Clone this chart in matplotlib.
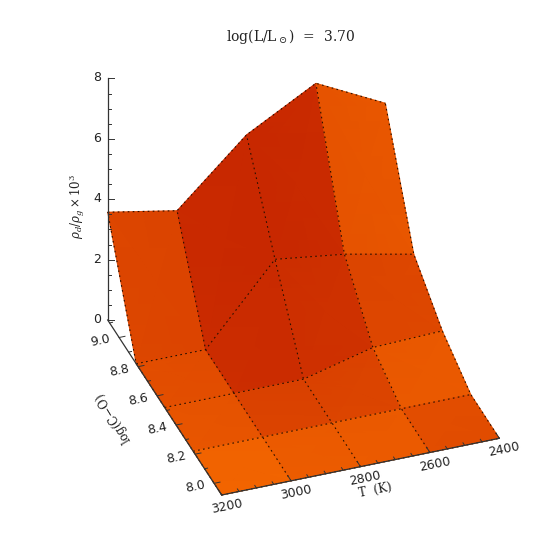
import numpy as np
import matplotlib
matplotlib.use('Agg')
import matplotlib.pyplot as plt
from matplotlib.colors import LinearSegmentedColormap

# grid of the surface
temps = [3200, 3000, 2800, 2600, 2400]
logco = [7.92, 8.22, 8.52, 8.82, 9.12]

# rho_d/rho_g x 10^3, one row per log(C-O), one column per T
rho = np.array([
    [0.00, 0.00, 0.00, 0.00, 0.00],
    [0.00, 0.00, 0.00, 0.00, 0.00],
    [0.00, 0.00, 0.00, 0.58, 0.66],
    [0.00, 0.00, 2.52, 2.22, 1.75],
    [3.57, 3.15, 5.19, 6.43, 5.30],
])

# brightness of each cell (0 = dark red, 1 = bright orange)
cell_shade = np.array([
    [1.00, 0.85, 0.85, 0.60],
    [0.74, 0.42, 0.45, 0.84],
    [0.64, 0.03, 0.12, 0.50],
    [0.50, 0.00, 0.00, 0.78],
])

t_major = [3200, 3000, 2800, 2600, 2400]
t_minor = [3150, 3100, 3050, 2950, 2900, 2850, 2750, 2700, 2650, 2550, 2500, 2450]
co_major = [8.0, 8.2, 8.4, 8.6, 8.8, 9.0]
co_minor = [8.1, 8.3, 8.5, 8.7, 8.9, 9.1]
z_major = [0, 2, 4, 6, 8]
z_minor = [0.5, 1, 1.5, 2.5, 3, 3.5, 4.5, 5, 5.5, 6.5, 7, 7.5]

orig = np.array([221.7, 495.0])
t_vec = np.array([277.6, -56.7])
co_vec = np.array([-114.0, -175.0])
z_vec = np.array([0.0, -30.2])


def proj(t, c, z=0.0):
    # data to picture position, the view is orthographic
    return orig + (3200 - t) / 800.0 * t_vec + (c - 7.92) / 1.2 * co_vec + z * z_vec


cmap = LinearSegmentedColormap.from_list('surf', ['#c82800', '#f26400'])

plt.rcParams['mathtext.fontset'] = 'dejavuserif'

fig = plt.figure(figsize=(5.5, 5.5), dpi=100)
ax = fig.add_axes([0, 0, 1, 1])
ax.set_xlim(0, 550)
ax.set_ylim(550, 0)
ax.axis('off')

xs = np.zeros((5, 5))
ys = np.zeros((5, 5))
for j in range(5):
    for i in range(5):
        xs[j, i], ys[j, i] = proj(temps[i], logco[j], rho[j, i])

# soft corners: mostly the cell's own colour, a bit of the neighbours
node = np.zeros((5, 5))
for j in range(5):
    for i in range(5):
        node[j, i] = cell_shade[max(j - 1, 0):j + 1, max(i - 1, 0):i + 1].mean()

# back to front
for j in range(3, -1, -1):
    for i in range(4):
        c = 0.85 * cell_shade[j, i] + 0.15 * node[j:j + 2, i:i + 2]
        ax.pcolormesh(xs[j:j + 2, i:i + 2], ys[j:j + 2, i:i + 2], c,
                      shading='gouraud', cmap=cmap, vmin=0, vmax=1, zorder=2)

# dotted mesh
for j in range(5):
    ax.plot(xs[j], ys[j], color='#2a1000', lw=0.8, ls=(0, (1.5, 3)), zorder=3)
for i in range(5):
    ax.plot(xs[:, i], ys[:, i], color='#2a1000', lw=0.8, ls=(0, (1.5, 3)), zorder=3)

axc = '#333333'
# T axis
p0 = proj(3200, 7.92)
p1 = proj(2400, 7.92)
ax.plot([p0[0], p1[0]], [p0[1], p1[1]], color=axc, lw=0.9, zorder=4)
t_dir = t_vec / np.linalg.norm(t_vec)
co_dir = co_vec / np.linalg.norm(co_vec)
for t in t_major + t_minor:
    p = proj(t, 7.92)
    n = 6 if t in t_major else 3
    q = p + co_dir * n
    ax.plot([p[0], q[0]], [p[1], q[1]], color=axc, lw=0.7, zorder=4)
for t in t_major:
    p = proj(t, 7.92)
    ax.text(p[0] + 5, p[1] + 11.5, str(t), rotation=11.5, rotation_mode='anchor',
            ha='center', va='center', fontsize=9, color='#222222')
ax.text(375, 490.5, 'T  (K)', rotation=11.5, rotation_mode='anchor', ha='center', va='center',
        fontsize=8.5, color='#222222', family='DejaVu Serif')

# log(C-O) axis
p0 = proj(3200, 7.92)
p1 = proj(3200, 9.12)
ax.plot([p0[0], p1[0]], [p0[1], p1[1]], color=axc, lw=0.9, zorder=4)
for c in co_major + co_minor:
    p = proj(3200, c)
    n = 6 if c in co_major else 3
    q = p + t_dir * n
    ax.plot([p[0], q[0]], [p[1], q[1]], color=axc, lw=0.7, zorder=4)
for c in co_major:
    p = proj(3200, c)
    ax.text(p[0] - 19, p[1] + 3.5, '%.1f' % c, rotation=11.5, rotation_mode='anchor',
            ha='center', va='center', fontsize=9, color='#222222')
ax.text(114, 418, 'log(C$-$O)', rotation=121, rotation_mode='anchor', ha='center', va='center',
        fontsize=8.5, color='#222222', family='DejaVu Serif')

# rho axis
p0 = proj(3200, 9.12)
ax.plot([p0[0], p0[0]], [p0[1], p0[1] + 8 * z_vec[1]], color=axc, lw=0.9, zorder=4)
for z in z_major + z_minor:
    y = p0[1] + z * z_vec[1]
    n = 6 if z in z_major else 3
    ax.plot([p0[0], p0[0] + n], [y, y], color=axc, lw=0.7, zorder=4)
for z in z_major:
    ax.text(97, p0[1] + z * z_vec[1] - 0.5, str(z), ha='center', va='center',
            fontsize=9, color='#222222')
ax.text(77, 206, r'$\rho_d/\rho_g \times 10^3$', rotation=90, ha='center', va='center',
        fontsize=8.5, color='#222222')

ax.text(291, 37, r'log(L/L$_\odot$)  =  3.70', ha='center', va='center', fontsize=10,
        color='#222222', family='DejaVu Serif')

fig.savefig('out.png', dpi=100)
